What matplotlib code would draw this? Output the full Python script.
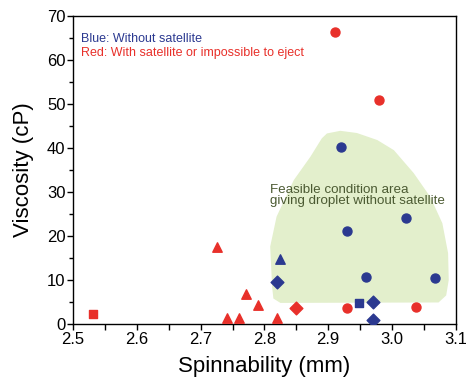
import matplotlib
matplotlib.use("Agg")
import matplotlib.pyplot as plt
from matplotlib.patches import Polygon
from matplotlib.ticker import MultipleLocator

plt.rcParams['font.family'] = ['Liberation Sans', 'DejaVu Sans']

BLUE = '#2b3990'
RED = '#e8302a'
GREEN_FILL = '#e3efcc'

# blue points: without satellite
blue_circle_x = [2.92, 3.022, 2.929, 2.959, 3.068]
blue_circle_y = [40.3, 24.2, 21.2, 10.6, 10.4]
blue_tri_x = [2.825]
blue_tri_y = [14.8]
blue_diam_x = [2.82, 2.97, 2.97]
blue_diam_y = [9.5, 4.9, 0.9]
blue_sq_x = [2.949]
blue_sq_y = [4.7]

# red points: with satellite or impossible to eject
red_circle_x = [2.91, 2.98, 2.93, 3.038]
red_circle_y = [66.3, 50.9, 3.6, 3.9]
red_tri_x = [2.726, 2.771, 2.79, 2.741, 2.76, 2.82]
red_tri_y = [17.6, 6.8, 4.3, 1.3, 1.3, 1.3]
red_diam_x = [2.85]
red_diam_y = [3.6]
red_sq_x = [2.531]
red_sq_y = [2.2]

# feasible region outline
area_x = [2.898, 2.919, 2.945, 2.977, 3.003, 3.034, 3.060, 3.079, 3.088, 3.089,
          3.085, 3.073, 2.825, 2.814, 2.812, 2.809, 2.819, 2.846, 2.872, 2.890]
area_y = [43.3, 43.9, 43.4, 41.8, 39.5, 34.3, 28.9, 22.9, 16.1, 10.0,
          6.5, 4.9, 4.8, 5.8, 8.5, 17.6, 24.4, 32.7, 38.0, 42.2]

fig = plt.figure(figsize=(4.66, 3.79), dpi=100)
ax = fig.add_axes([0.157, 0.145, 0.821, 0.813])

ax.add_patch(Polygon(list(zip(area_x, area_y)), closed=True, facecolor=GREEN_FILL,
                     edgecolor='none', zorder=1))

ms = 42
ax.scatter(blue_circle_x, blue_circle_y, s=ms, marker='o', color=BLUE, zorder=3)
ax.scatter(blue_tri_x, blue_tri_y, s=ms * 1.1, marker='^', color=BLUE, zorder=3)
ax.scatter(blue_diam_x, blue_diam_y, s=ms, marker='D', color=BLUE, zorder=3)
ax.scatter(blue_sq_x, blue_sq_y, s=ms * 0.8, marker='s', color=BLUE, zorder=3)
ax.scatter(red_circle_x, red_circle_y, s=ms, marker='o', color=RED, zorder=3)
ax.scatter(red_tri_x, red_tri_y, s=ms * 1.1, marker='^', color=RED, zorder=3)
ax.scatter(red_diam_x, red_diam_y, s=ms, marker='D', color=RED, zorder=3)
ax.scatter(red_sq_x, red_sq_y, s=ms * 0.8, marker='s', color=RED, zorder=3)

ax.text(2.512, 64.8, 'Blue: Without satellite', color=BLUE, fontsize=9, va='center')
ax.text(2.512, 61.5, 'Red: With satellite or impossible to eject', color=RED,
        fontsize=9, va='center')
ax.text(2.809, 29.2, 'Feasible condition area\ngiving droplet without satellite',
        color='#4b5a32', fontsize=9.6, va='center', linespacing=0.9)

ax.set_xlim(2.5, 3.1)
ax.set_ylim(0, 70)
ax.xaxis.set_major_locator(MultipleLocator(0.1))
ax.xaxis.set_minor_locator(MultipleLocator(0.05))
ax.yaxis.set_major_locator(MultipleLocator(10))
ax.yaxis.set_minor_locator(MultipleLocator(5))
ax.tick_params(which='major', direction='out', length=4, width=1, labelsize=12, pad=1.5)
ax.tick_params(which='minor', direction='out', length=3, width=1)
ax.tick_params(axis='x', which='minor', length=4)
ax.xaxis.set_major_formatter(matplotlib.ticker.FormatStrFormatter('%.1f'))

for sp in ax.spines.values():
    sp.set_linewidth(1.0)

ax.set_xlabel('Spinnability (mm)', fontsize=16, labelpad=7)
ax.set_ylabel('Viscosity (cP)', fontsize=16, labelpad=9)

fig.savefig('out.png', dpi=100)
